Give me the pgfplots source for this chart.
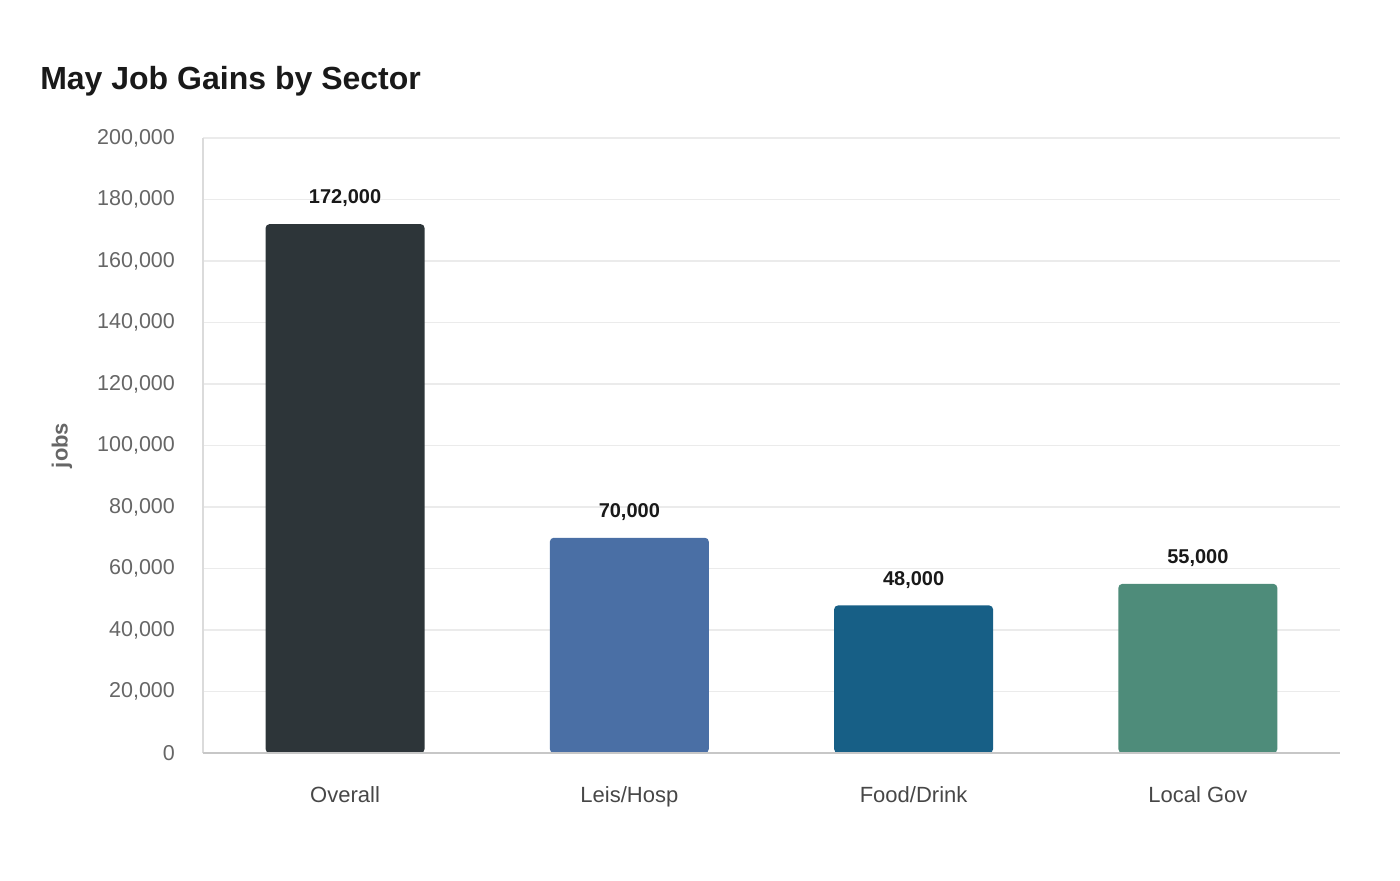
\documentclass[border=0pt]{standalone}
\usepackage{pgfplots}
\pgfplotsset{compat=1.18}
\usepackage{fontspec}
\setmainfont{Liberation Sans}
\definecolor{cOverall}{HTML}{2D3539}
\definecolor{cLeis}{HTML}{4A6FA5}
\definecolor{cFood}{HTML}{175F86}
\definecolor{cGov}{HTML}{4E8C7A}
\definecolor{gridc}{HTML}{EBEBEB}
\definecolor{tickc}{HTML}{666666}
\begin{document}
\begin{tikzpicture}
\begin{axis}[
  scale only axis,
  width=568.5pt, height=307.5pt,
  xmin=-0.5, xmax=3.5,
  ymin=0, ymax=200000,
  ytick={0,20000,...,200000},
  xtick={0,1,2,3},
  xticklabels={Overall,Leis/Hosp,Food/Drink,Local Gov},
  scaled y ticks=false,
  /pgf/number format/.cd, fixed, 1000 sep={,}, assume math mode=true,
  /pgfplots/.cd,
  ymajorgrids, grid style={gridc, line width=0.6pt},
  major tick length=0pt,
  axis line style={draw=none},
  yticklabel style={font=\fontsize{10.75}{12}\selectfont, text=tickc, xshift=-10.5pt},
  xticklabel style={font=\fontsize{11}{12}\selectfont, yshift=-13pt, text=black!72},
  ybar, bar width=79.5pt, bar shift=0pt,
  clip=false,
  nodes near coords,
  every node near coord/.append style={font=\bfseries\fontsize{10}{12}\selectfont, text=black!90, yshift=5pt},
]
\draw[gridc!85!gray, line width=0.6pt] (rel axis cs:0,0) -- (rel axis cs:0,1);
\addplot[fill=cOverall, draw=none, rounded corners=2pt] coordinates {(0,172000)};
\addplot[fill=cLeis, draw=none, rounded corners=2pt] coordinates {(1,70000)};
\addplot[fill=cFood, draw=none, rounded corners=2pt] coordinates {(2,48000)};
\addplot[fill=cGov, draw=none, rounded corners=2pt] coordinates {(3,55000)};
\draw[black!22, line width=0.8pt] (rel axis cs:0,0) -- (rel axis cs:1,0);
\node[anchor=west, inner sep=0pt, font=\bfseries\fontsize{16}{18}\selectfont, text=black!90] at (rel axis cs:-0.1434,1.0915) {May Job Gains by Sector};
\node[rotate=90, font=\bfseries\fontsize{11}{13}\selectfont, text=black!60] at (rel axis cs:-0.124,0.5) {jobs};
\path (rel axis cs:-0.1785,-0.2065) rectangle (rel axis cs:1.0528,1.2244);
\end{axis}
\end{tikzpicture}
\end{document}
